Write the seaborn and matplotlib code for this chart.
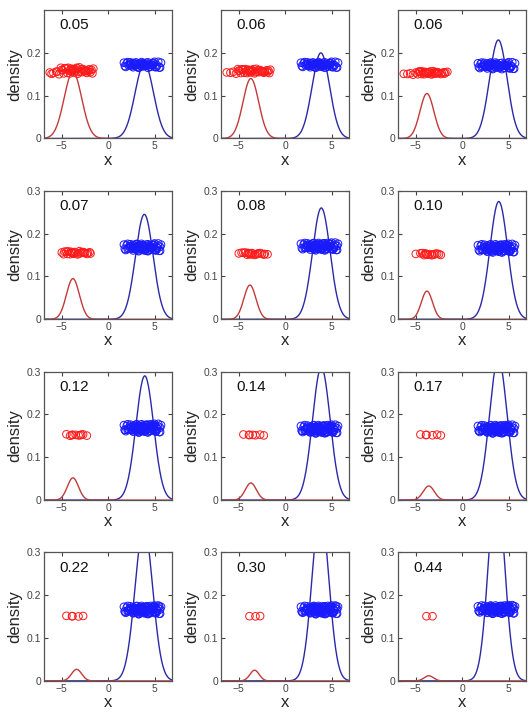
"""
    Grid of mixture density snapshots: red and blue component
    densities with the assigned points drawn on top
"""

#===== LIBRARIES =====================================
import numpy as np
import pandas as pd
import seaborn as sns
from matplotlib import pyplot as plt

#===== DATA ==========================================
labels = ["0.05", "0.06", "0.06", "0.07", "0.08", "0.10",
          "0.12", "0.14", "0.17", "0.22", "0.30", "0.44"]

# number of points in each cluster per panel
red_n = [45, 40, 35, 25, 20, 16, 10, 7, 6, 5, 3, 2]
blue_n = [55, 60, 65, 75, 80, 84, 90, 93, 94, 95, 97, 98]

# component densities
red_mu = [-3.8, -3.7, -3.8, -3.8, -3.8, -3.8, -3.8, -3.7, -3.6, -3.4, -3.3, -3.6]
red_sd = [0.95, 0.85, 0.75, 0.7, 0.65, 0.6, 0.6, 0.6, 0.6, 0.55, 0.5, 0.5]
red_peak = [0.155, 0.14, 0.105, 0.095, 0.08, 0.066, 0.052, 0.04, 0.033, 0.027, 0.025, 0.012]
blue_mu = [3.9, 3.85, 3.9, 3.9, 3.9, 3.95, 3.95, 3.9, 3.9, 3.85, 3.8, 3.7]
blue_sd = [1.0, 0.95, 0.95, 0.95, 0.95, 0.95, 0.95, 0.95, 0.95, 0.95, 0.9, 0.87]
blue_peak = [0.175, 0.2, 0.23, 0.245, 0.26, 0.275, 0.29, 0.31, 0.33, 0.36, 0.4, 0.46]

# height of the point rows
red_y = [0.158, 0.157, 0.153, 0.155, 0.153, 0.152, 0.152, 0.152, 0.152, 0.151, 0.151, 0.151]
red_spread = [1.0, 0.7, 0.5, 0.5, 0.4, 0.35, 0.3, 0.2, 0.2, 0.15, 0.1, 0.0]
blue_y = [0.172, 0.172, 0.170, 0.168, 0.170, 0.166, 0.168, 0.166, 0.166, 0.166, 0.166, 0.167]
blue_spread = [0.7, 0.7, 0.8, 0.9, 0.9, 1.0, 1.0, 1.0, 1.0, 1.0, 1.0, 1.0]

# point positions (central ones first for red)
red_x = [-3.85, -3.2, -2.7, -3.9, -4.5, -2.3, -3.5, -4.1, -2.9, -3.0,
         -4.3, -3.7, -2.5, -4.0, -3.3, -5.0, -1.9, -4.7, -2.2, -3.6,
         -4.4, -2.6, -3.1, -4.8, -2.0, -5.6, -1.6, -6.3, -4.2, -3.4,
         -5.3, -1.8, -2.8, -4.6, -5.9, -3.8, -2.4, -5.1, -1.7, -4.9,
         -3.3, -5.5, -2.1, -6.1, -3.95]
red_dy = [0.002, -0.003, 0.004, -0.001, 0.006, -0.005, 0.001, -0.006, 0.003, -0.002,
          0.007, -0.004, 0.000, 0.005, -0.007, 0.002, -0.003, 0.006, -0.001, 0.004,
          -0.005, 0.001, 0.008, -0.006, 0.003, -0.002, 0.005, -0.004, 0.000, 0.007,
          -0.008, 0.002, -0.003, 0.006, -0.005, 0.004, -0.001, 0.007, -0.006, 0.001,
          0.005, -0.002, 0.003, -0.007, 0.000]

blue_x = [3.2, 4.5, 2.1, 5.3, 3.9, 2.7, 4.8, 1.8, 3.5, 5.6,
          4.1, 2.4, 3.0, 5.0, 4.3, 2.9, 3.7, 1.9, 4.6, 3.3,
          5.4, 2.6, 4.0, 3.1, 4.9, 2.2, 3.6, 5.1, 4.4, 2.8,
          3.8, 1.7, 4.7, 3.4, 5.5, 2.5, 4.2, 3.0, 5.2, 2.0,
          3.9, 4.6, 2.7, 3.5, 5.0, 4.1, 2.3, 3.2, 4.8, 5.7,
          3.6, 2.9, 4.3, 3.8, 2.4, 5.3, 4.0, 3.3, 4.5, 2.6,
          3.1, 5.1, 4.7, 2.1, 3.7, 4.2, 2.8, 5.4, 3.4, 4.9,
          3.9, 2.5, 4.4, 3.0, 5.6, 4.1, 2.2, 3.5, 4.6, 3.2,
          5.2, 2.7, 4.0, 3.7, 1.8, 4.8, 3.3, 5.0, 4.3, 2.9,
          3.6, 4.5, 2.3, 3.8, 5.5, 4.2, 3.1, 4.7]
blue_dy = [0.004, -0.006, 0.009, -0.002, 0.001, -0.008, 0.006, -0.004, 0.003, -0.009,
           0.007, -0.001, 0.000, -0.005, 0.008, -0.003, 0.005, -0.007, 0.002, -0.010,
           0.010, -0.004, 0.001, -0.006, 0.006, -0.002, 0.009, -0.008, 0.003, 0.000,
           -0.005, 0.007, -0.001, 0.004, -0.009, 0.002, -0.003, 0.008, -0.007, 0.005,
           0.001, -0.006, 0.006, -0.002, 0.010, -0.004, 0.003, -0.008, 0.000, 0.007,
           -0.005, 0.004, -0.010, 0.002, 0.008, -0.001, -0.007, 0.005, 0.001, -0.003,
           0.009, -0.006, 0.002, -0.004, 0.006, -0.009, 0.000, 0.004, -0.002, 0.007,
           -0.008, 0.003, 0.005, -0.005, 0.001, 0.008, -0.003, -0.006, 0.009, -0.001,
           0.002, -0.007, 0.006, 0.000, -0.004, 0.004, -0.010, 0.007, -0.002, 0.003,
           0.005, -0.008, 0.001, -0.005, 0.008, -0.003, 0.006, -0.001]

#===== PLOT ==========================================
sns.set_style("ticks", {"xtick.direction": "in", "ytick.direction": "in"})
plt.rcParams['font.family'] = ['Liberation Sans', 'DejaVu Sans']

fig, axes = plt.subplots(4, 3, figsize=(5.32, 7.13), dpi=100)
fig.subplots_adjust(left=0.083, right=0.989, top=0.986, bottom=0.045,
                    hspace=0.407, wspace=0.383)

xs = np.linspace(-6.9, 6.9, 400)

for i, ax in enumerate(axes.flat):
    curves = pd.DataFrame({
        "x": xs,
        "red": red_peak[i] * np.exp(-0.5 * ((xs - red_mu[i]) / red_sd[i]) ** 2),
        "blue": blue_peak[i] * np.exp(-0.5 * ((xs - blue_mu[i]) / blue_sd[i]) ** 2),
    })
    sns.lineplot(data=curves, x="x", y="blue", color="#2a2aa8", lw=1.0,
                 estimator=None, ax=ax)
    sns.lineplot(data=curves, x="x", y="red", color="#c23a3a", lw=1.0,
                 estimator=None, ax=ax)

    rn, bn = red_n[i], blue_n[i]
    ry = [red_y[i] + red_spread[i] * d for d in red_dy[:rn]]
    by = [blue_y[i] + blue_spread[i] * d for d in blue_dy[:bn]]
    sns.scatterplot(x=red_x[:rn], y=ry, marker="o", facecolor="none",
                    edgecolor="#ff1a1a", s=30, linewidth=0.7, zorder=3, ax=ax)
    sns.scatterplot(x=blue_x[:bn], y=by, marker="o", facecolor="none",
                    edgecolor="#1a1aff", s=30, linewidth=0.7, zorder=3, ax=ax)

    ax.set_xlim(-6.9, 6.9)
    ax.set_ylim(0, 0.3)
    ax.set_xticks([-5, 0, 5])
    ax.set_xticklabels(["\u22125", "0", "5"])
    if i < 3:
        ax.set_yticks([0, 0.1, 0.2])
        ax.set_yticklabels(["0", "0.1", "0.2"])
    else:
        ax.set_yticks([0, 0.1, 0.2, 0.3])
        ax.set_yticklabels(["0", "0.1", "0.2", "0.3"])
    ax.tick_params(top=True, right=True, length=3, width=0.8,
                   labelsize=7.5, colors="#444444", pad=2)
    for sp in ax.spines.values():
        sp.set_visible(True)
        sp.set_color("#555555")
        sp.set_linewidth(0.9)

    ax.set_xlabel("x", fontsize=12, labelpad=1)
    ax.set_ylabel("density", fontsize=12, labelpad=3)
    ax.text(0.12, 0.88, labels[i], transform=ax.transAxes, fontsize=11,
            va="center", ha="left", color="#111111")

fig.savefig("out.png", dpi=100)
